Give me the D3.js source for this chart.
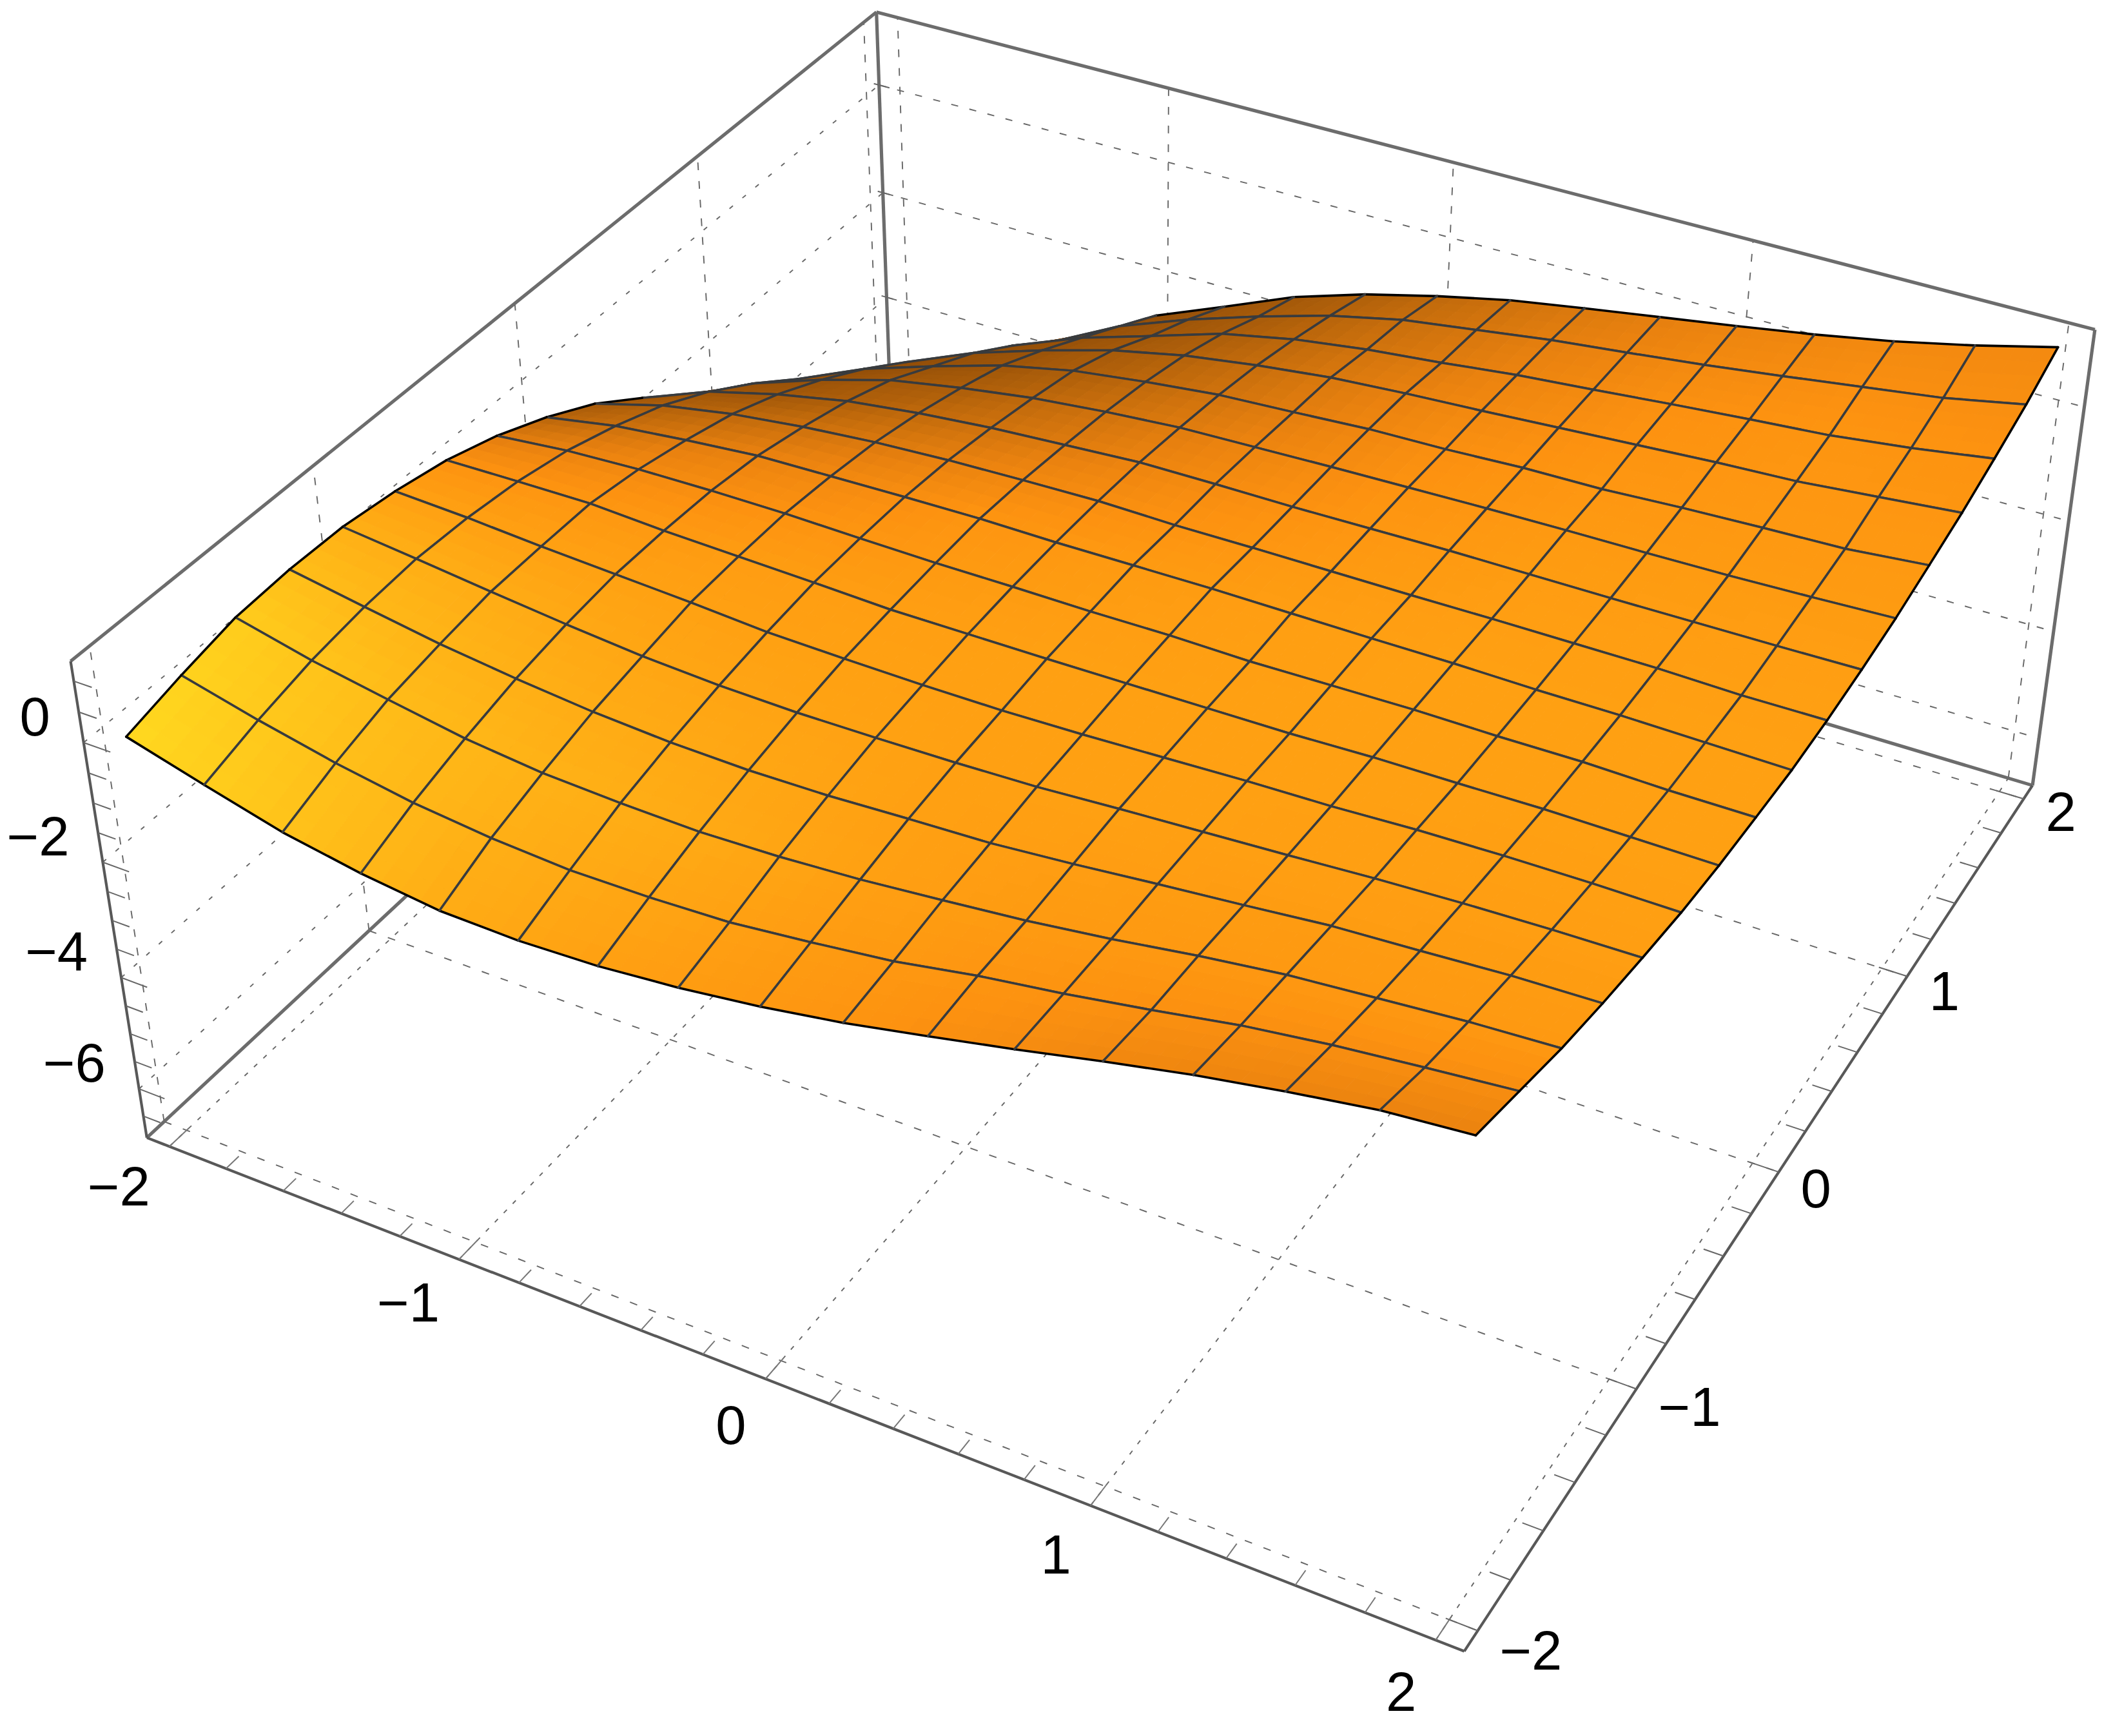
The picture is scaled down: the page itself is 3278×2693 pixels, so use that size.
<!DOCTYPE html>
<html>
<head>
<meta charset="utf-8">
<script src="https://cdn.jsdelivr.net/npm/d3@7"></script>
<style>
	body { margin: 0; background: #fff; }
	text { font-family: "Liberation Sans", Arial, sans-serif; font-size: 85px; fill: #000; }
</style>
</head>
<body>
<div id="chart"></div>
<script>
// axis labels
var xTicks = [-2, -1, 0, 1, 2];
var yTicks = [-2, -1, 0, 1, 2];
var zTicks = [0, -2, -4, -6];
var xMinorTicks = d3.range(-10, 11).map(function(d) { return d / 5; });
var yMinorTicks = d3.range(-10, 11).map(function(d) { return d / 5; });
var zMinorTicks = d3.range(-13, 3).map(function(d) { return d / 2; });

// mesh positions along x and y
var meshValues = d3.range(17).map(function(d) { return -2 + d * 0.25; });

// z, one row per y mesh line (y=-2 first), x=-2 to 2 across
// left part of the upper rows sits behind the ridge, those are guesses
var surfaceZ = [
	[-0.02, -0.38, -0.72, -0.95, -1.11, -1.14, -1.09, -0.97, -0.80, -0.58, -0.31, -0.03, 0.27, 0.55, 0.79, 1.00, 1.12],
	[0.21, -0.11, -0.39, -0.61, -0.75, -0.83, -0.82, -0.77, -0.63, -0.47, -0.23, -0.04, 0.18, 0.42, 0.60, 0.74, 0.87],
	[0.40, 0.10, -0.13, -0.35, -0.49, -0.55, -0.58, -0.54, -0.46, -0.34, -0.21, -0.04, 0.16, 0.33, 0.44, 0.55, 0.62],
	[0.45, 0.23, 0.02, -0.14, -0.27, -0.35, -0.38, -0.36, -0.30, -0.25, -0.14, -0.01, 0.11, 0.24, 0.31, 0.39, 0.43],
	[0.43, 0.29, 0.14, 0.00, -0.12, -0.19, -0.22, -0.21, -0.19, -0.15, -0.07, 0.00, 0.07, 0.15, 0.21, 0.25, 0.27],
	[0.31, 0.25, 0.16, 0.09, 0.02, -0.07, -0.10, -0.12, -0.12, -0.09, -0.04, 0.01, 0.04, 0.10, 0.13, 0.14, 0.13],
	[0.13, 0.15, 0.16, 0.09, 0.05, 0.01, -0.04, -0.04, -0.04, -0.03, -0.02, -0.01, 0.03, 0.04, 0.06, 0.05, 0.04],
	[-0.15, -0.03, 0.03, 0.05, 0.05, 0.02, 0.00, 0.00, -0.01, 0.00, -0.02, 0.00, 0.02, 0.01, 0.02, -0.01, -0.01],
	[-0.52, -0.30, -0.17, -0.06, -0.03, 0.00, 0.02, 0.01, 0.02, 0.03, 0.02, 0.01, 0.01, -0.01, -0.01, -0.03, -0.05],
	[-0.97, -0.63, -0.41, -0.26, -0.15, -0.08, -0.04, -0.01, -0.03, -0.02, -0.02, -0.02, -0.01, -0.01, -0.01, -0.04, -0.03],
	[-1.55, -1.07, -0.75, -0.50, -0.34, -0.22, -0.14, -0.06, -0.05, -0.05, -0.03, -0.01, -0.01, -0.01, 0.00, 0.01, 0.03],
	[-2.20, -1.60, -1.17, -0.81, -0.58, -0.39, -0.26, -0.16, -0.12, -0.08, -0.05, -0.02, 0.00, 0.01, 0.03, 0.07, 0.12],
	[-2.95, -2.20, -1.65, -1.24, -0.86, -0.59, -0.42, -0.28, -0.21, -0.13, -0.10, -0.04, -0.02, 0.05, 0.10, 0.14, 0.26],
	[-3.75, -2.90, -2.20, -1.67, -1.26, -0.90, -0.63, -0.44, -0.29, -0.20, -0.13, -0.05, 0.03, 0.11, 0.17, 0.29, 0.41],
	[-4.65, -3.65, -2.85, -2.20, -1.70, -1.31, -0.91, -0.65, -0.47, -0.34, -0.19, -0.08, 0.04, 0.15, 0.25, 0.41, 0.61],
	[-5.65, -4.45, -3.55, -2.80, -2.15, -1.67, -1.26, -0.89, -0.61, -0.43, -0.25, -0.11, 0.04, 0.21, 0.39, 0.57, 0.83],
	[-6.74, -5.40, -4.30, -3.40, -2.61, -2.09, -1.56, -1.16, -0.84, -0.56, -0.35, -0.15, 0.05, 0.26, 0.50, 0.79, 1.12]
];

// brightness of the orange at every second mesh node
var shadeTable = [
	[217, 195, 172, 160, 152, 142, 134, 130, 128],
	[205, 188, 178, 170, 160, 154, 152, 152, 152],
	[176, 172, 166, 163, 160, 160, 159, 158, 158],
	[145, 150, 156, 158, 160, 160, 160, 160, 160],
	[100, 122, 135, 148, 154, 158, 160, 160, 160],
	[78, 85, 105, 122, 138, 150, 156, 157, 158],
	[70, 72, 82, 104, 124, 142, 150, 152, 152],
	[70, 70, 76, 92, 114, 130, 143, 148, 146],
	[70, 70, 72, 86, 104, 120, 130, 136, 136]
];

var width = 3278;
var height = 2693;
var svg = d3.select("#chart")
	.append("svg")
	.attr("width", width)
	.attr("height", height);

// plot box
var xMin = -2.08, xMax = 2.08, zMin = -6.9, zMax = 1.32;
var xScale = d3.scaleLinear().domain([xMin, xMax]).range([0, 1]);
var yScale = d3.scaleLinear().domain([xMin, xMax]).range([0, 1]);
var zScale = d3.scaleLinear().domain([zMin, zMax]).range([0, 1]);

// camera fitted to the box corners and ticks (output in thousands of px)
var camera = [
	[1.78344, 1.44900, -0.12615, 0.22784],
	[0.50313, -0.93096, -0.81252, 1.76490],
	[-0.11458, 0.21200, -0.07150, 1.00000]
];

function depth(x, y, z) {
	return camera[2][0] * xScale(x) + camera[2][1] * yScale(y) + camera[2][2] * zScale(z) + camera[2][3];
}

function project(x, y, z) {
	var X = xScale(x), Y = yScale(y), Z = zScale(z);
	var w = depth(x, y, z);
	return [
		1000 * (camera[0][0] * X + camera[0][1] * Y + camera[0][2] * Z + camera[0][3]) / w,
		1000 * (camera[1][0] * X + camera[1][1] * Y + camera[1][2] * Z + camera[1][3]) / w
	];
}

var line = d3.line();

function seg(parent, a, b, stroke, w, dash) {
	parent.append("path")
		.attr("d", line([a, b]))
		.attr("fill", "none")
		.attr("stroke", stroke)
		.attr("stroke-width", w)
		.attr("stroke-dasharray", dash || null);
}

// dashed grids on the floor and the two back walls
var grid = svg.append("g");
var gridColor = "#666";
xTicks.forEach(function(v) {
	seg(grid, project(v, xMin, zMin), project(v, xMax, zMin), gridColor, 1.9, "7,13");
	seg(grid, project(v, xMax, zMin), project(v, xMax, zMax), gridColor, 1.9, "12,17");
});
yTicks.forEach(function(v) {
	seg(grid, project(xMin, v, zMin), project(xMax, v, zMin), gridColor, 1.9, "12,19");
	seg(grid, project(xMin, v, zMin), project(xMin, v, zMax), gridColor, 1.9, "12,17");
});
zTicks.forEach(function(v) {
	seg(grid, project(xMin, xMin, v), project(xMin, xMax, v), gridColor, 1.9, "7,19");
	seg(grid, project(xMin, xMax, v), project(xMax, xMax, v), gridColor, 1.9, "11,18");
});

// box edges, the ones at the back look heavier
var box = svg.append("g");
[
	[[xMin, xMin, zMax], [xMin, xMax, zMax]],
	[[xMin, xMax, zMax], [xMax, xMax, zMax]],
	[[xMin, xMax, zMax], [xMin, xMax, zMin]],
	[[xMin, xMin, zMin], [xMin, xMax, zMin]],
	[[xMin, xMax, zMin], [xMax, xMax, zMin]],
	[[xMax, xMax, zMax], [xMax, xMax, zMin]]
].forEach(function(e) {
	seg(box, project.apply(null, e[0]), project.apply(null, e[1]), "#6c6c6c", 5.2);
});
[
	[[xMin, xMin, zMax], [xMin, xMin, zMin]],
	[[xMin, xMin, zMin], [xMax, xMin, zMin]],
	[[xMax, xMin, zMin], [xMax, xMax, zMin]]
].forEach(function(e) {
	seg(box, project.apply(null, e[0]), project.apply(null, e[1]), "#585858", 4.2);
});

// ticks
var ticks = svg.append("g");
xMinorTicks.forEach(function(v) {
	var len = xTicks.indexOf(v) >= 0 ? 0.09 : 0.06;
	seg(ticks, project(v, xMin, zMin), project(v, xMin + len, zMin), "#777", 2);
});
yMinorTicks.forEach(function(v) {
	var len = yTicks.indexOf(v) >= 0 ? 0.09 : 0.06;
	seg(ticks, project(xMax, v, zMin), project(xMax - len, v, zMin), "#666", 2);
});
zMinorTicks.forEach(function(v) {
	var len = zTicks.indexOf(v) >= 0 ? 0.09 : 0.06;
	seg(ticks, project(xMin, xMin, v), project(xMin + len, xMin, v), "#666", 2);
});
zTicks.forEach(function(v) {
	seg(ticks, project(xMin - 0.02, xMax, v), project(xMin + 0.04, xMax, v), "#666", 2);
});

function tickLabel(v) {
	return v < 0 ? "\u2212" + Math.abs(v) : "" + v;
}

// tick labels
var labels = svg.append("g");
xTicks.forEach(function(v) {
	var p = project(v, xMin, zMin);
	labels.append("text").attr("x", p[0] - 30).attr("y", p[1] + 101 + 4.5 * v)
		.attr("text-anchor", "end").text(tickLabel(v));
});
yTicks.forEach(function(v) {
	var p = project(xMax, v, zMin);
	labels.append("text").attr("x", p[0] + 34).attr("y", p[1] + 55 - 2.5 * v)
		.attr("text-anchor", "start").text(tickLabel(v));
});
zTicks.forEach(function(v) {
	var p = project(xMin, xMin, v);
	labels.append("text").attr("x", p[0] - 52).attr("y", p[1] - 11)
		.attr("text-anchor", "end").text(tickLabel(v));
});

var shadeColor = d3.scaleLinear()
	.domain([70, 96, 128, 145, 160, 217])
	.range(["#8f4c08", "#b0600a", "#ea820f", "#fd9210", "#ffa012", "#ffd91f"])
	.clamp(true);

var last = meshValues.length - 1;

function bilerp(c00, c10, c01, c11, s, t) {
	return c00 * (1 - s) * (1 - t) + c10 * s * (1 - t) + c01 * (1 - s) * t + c11 * s * t;
}

// i and j are mesh indices, can be fractional
function shadeAt(i, j) {
	var ci = Math.min(Math.floor(i / 2), shadeTable[0].length - 2);
	var cj = Math.min(Math.floor(j / 2), shadeTable.length - 2);
	return bilerp(shadeTable[cj][ci], shadeTable[cj][ci + 1], shadeTable[cj + 1][ci], shadeTable[cj + 1][ci + 1],
		i / 2 - ci, j / 2 - cj);
}

// cells painted from far to near so the ridge hides what is behind it
var cells = [];
d3.range(last).forEach(function(j) {
	d3.range(last).forEach(function(i) {
		cells.push({
			i: i,
			j: j,
			w: depth((meshValues[i] + meshValues[i + 1]) / 2, (meshValues[j] + meshValues[j + 1]) / 2,
				(surfaceZ[j][i] + surfaceZ[j + 1][i + 1]) / 2)
		});
	});
});
cells.sort(function(a, b) { return b.w - a.w; });

var subdiv = 4;
var surface = svg.append("g");
cells.forEach(function(c) {
	var i = c.i, j = c.j;
	var g = surface.append("g");
	var z = [surfaceZ[j][i], surfaceZ[j][i + 1], surfaceZ[j + 1][i], surfaceZ[j + 1][i + 1]];
	var x0 = meshValues[i], x1 = meshValues[i + 1], y0 = meshValues[j], y1 = meshValues[j + 1];

	function pt(s, t) {
		return project(x0 + (x1 - x0) * s, y0 + (y1 - y0) * t, bilerp(z[0], z[1], z[2], z[3], s, t));
	}

	d3.range(subdiv).forEach(function(a) {
		d3.range(subdiv).forEach(function(b) {
			var s0 = a / subdiv, s1 = (a + 1) / subdiv, t0 = b / subdiv, t1 = (b + 1) / subdiv;
			var col = shadeColor(shadeAt(i + (s0 + s1) / 2, j + (t0 + t1) / 2));
			g.append("path")
				.attr("d", line([pt(s0, t0), pt(s1, t0), pt(s1, t1), pt(s0, t1)]) + "Z")
				.attr("fill", col)
				.attr("stroke", col)
				.attr("stroke-width", 1);
		});
	});

	var meshColor = "#383b3e";
	var edges = [
		[pt(0, 0), pt(1, 0), j == 0],
		[pt(0, 1), pt(1, 1), j + 1 == last],
		[pt(0, 0), pt(0, 1), i == 0],
		[pt(1, 0), pt(1, 1), i + 1 == last]
	];
	edges.forEach(function(e) {
		g.append("path")
			.attr("d", line([e[0], e[1]]))
			.attr("fill", "none")
			.attr("stroke", e[2] ? "#000" : meshColor)
			.attr("stroke-width", e[2] ? 3.6 : 3.5)
			.attr("stroke-linecap", "round");
	});
});
</script>
</body>
</html>
